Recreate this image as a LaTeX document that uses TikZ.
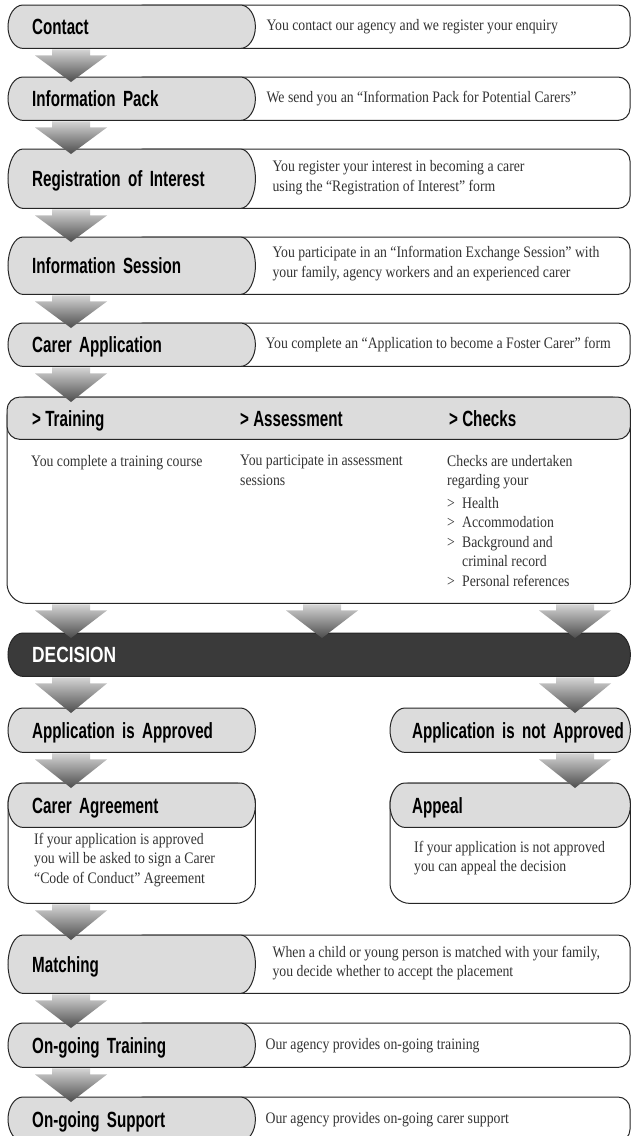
\documentclass[tikz,border=0pt]{standalone}
\usepackage{fontspec}
\usetikzlibrary{calc}
\newfontfamily\headfont[FakeStretch=0.69]{Liberation Sans Bold}
\newfontfamily\decisionfont[FakeStretch=0.79]{Liberation Sans Bold}
\newfontfamily\bodyfont[FakeStretch=0.86]{Liberation Serif}
\definecolor{pillgrey}{HTML}{DCDCDC}
\definecolor{edgegrey}{HTML}{262626}
\definecolor{decisiongrey}{HTML}{3A3A3A}
\definecolor{arrowtop}{HTML}{D4D4D4}
\definecolor{arrowbot}{HTML}{4C4C4C}
\definecolor{bodytext}{HTML}{333333}
\pgfdeclarelayer{boxes}
\pgfdeclarelayer{pills}
\pgfsetlayers{boxes,pills,main}

\tikzset{
  headtext/.style={text height=16pt, text depth=0pt, text=black,
    font=\headfont\fontsize{22}{25}\selectfont},
  head/.style={headtext, anchor=north west, minimum width=247pt, minimum height=43pt,
    inner xsep=24pt, text width=199pt, align=left},
  desc/.style={anchor=west, align=left, inner sep=0pt, text=bodytext,
    font=\bodyfont\fontsize{16}{19.5}\selectfont},
  frame/.style={anchor=north west, inner sep=0pt},
  outline/.style={draw=edgegrey, line width=1pt},
  arrowshade/.style={top color=arrowtop, bottom color=arrowbot},
}

% grey pill with elliptic ends, drawn from a node's corners
\newcommand{\pillshape}[2][pillgrey]{%
  \path[outline, fill=#1] let \p1=(#2.north west), \p2=(#2.south east) in
    (\x1+15pt,\y1) -- (\x2-15pt,\y1)
    arc[start angle=90, end angle=-90, x radius=15pt, y radius={(\y1-\y2)/2}]
    -- (\x1+15pt,\y2)
    arc[start angle=270, end angle=90, x radius=15pt, y radius={(\y1-\y2)/2}] -- cycle;}
% white box behind a pill, out to the right edge
\newcommand{\descbox}[1]{%
  \draw[outline, fill=white, rounded corners=12pt] (#1.north) -- (#1.north -| rightedge)
    -- (#1.south -| rightedge) -- (#1.south) -- cycle;}
% fat shaded arrow at column #1 from node #2 down to node #3
\newcommand{\fatarrow}[3]{%
  \shade[arrowshade] ($(#1 |- #2.south)+(-19,1)$) -- ++(0,6) -- ++(-17,0)
    -- ($(#1 |- #3.north)+(0,5)$) -- ($(#1 |- #2.south)+(36,7)$) -- ++(-17,0) -- ++(0,-6) -- cycle;}

\begin{document}
\begin{tikzpicture}[x=1pt, y=-1pt]
  \useasboundingbox (0,0) rectangle (631,1136);
  \coordinate (colL) at (71,0);
  \coordinate (colM) at (322,0);
  \coordinate (colR) at (575,0);
  \coordinate (rightedge) at (630,0);

  % steps down the left
  \node[head] (contact) at (8,5) {Contact};
  \node[desc] (contact-d) at ($(contact.east)+(11,0)$) {You contact our agency and we register your enquiry};
  \node[head] (infopack) at (8,77) {Information Pack};
  \node[desc] (infopack-d) at ($(infopack.east)+(11,0)$) {We send you an “Information Pack for Potential Carers”};
  \node[head, minimum height=59pt] (register) at (8,149) {Registration of Interest};
  \node[desc] (register-d) at ($(register.east)+(17,-1)$) {You register your interest in becoming a carer\\using the “Registration of Interest” form};
  \node[head, minimum height=57pt] (session) at (8,237) {Information Session};
  \node[desc] (session-d) at ($(session.east)+(17,-2)$) {You participate in an “Information Exchange Session” with\\your family, agency workers and an experienced carer};
  \node[head] (carerapp) at (8,323) {Carer Application};
  \node[desc] (carerapp-d) at ($(carerapp.east)+(10,0)$) {You complete an “Application to become a Foster Carer” form};

  % training / assessment / checks
  \node[frame, minimum width=623pt, minimum height=206pt] (stage) at (7,397) {};
  \node[frame, minimum width=623pt, minimum height=42pt] (stagehead) at (7,397) {};
  \node[headtext, anchor=west, inner sep=0pt] (training) at (32,418) {> Training};
  \node[headtext, anchor=west, inner sep=0pt] (assessment) at (240,418) {> Assessment};
  \node[headtext, anchor=west, inner sep=0pt] (checks) at (449,418) {> Checks};
  \node[desc, anchor=north west] (training-d) at (31,455) {You complete a training course};
  \node[desc, anchor=north west] (assessment-d) at (240,455) {You participate in assessment\\sessions};
  \node[desc, anchor=north west] (checks-d) at (447,455) {Checks are undertaken\\regarding your\\[3pt]
    \makebox[15pt][l]{>}Health\\\makebox[15pt][l]{>}Accommodation\\
    \makebox[15pt][l]{>}Background and\\\hspace*{15pt}criminal record\\
    \makebox[15pt][l]{>}Personal references};

  % decision and its two outcomes
  \node[head, minimum width=622pt, text width=574pt, text=white,
    font=\decisionfont\fontsize{22}{25}\selectfont] (decision) at (8,633) {DECISION};
  \node[head, minimum height=44pt] (approved) at (8,708) {Application is Approved};
  \node[head, minimum height=44pt, minimum width=240pt, inner xsep=22pt, text width=196pt] (notapproved) at (390,708) {\mbox{Application is not Approved}};
  \node[frame, minimum width=247pt, minimum height=120pt] (agreebox) at (8,783) {};
  \node[head, minimum height=44pt] (agree) at (8,783) {Carer Agreement};
  \node[desc, anchor=north west] (agree-d) at (34,833) {If your application is approved\\you will be asked to sign a Carer\\“Code of Conduct” Agreement};
  \node[frame, minimum width=240pt, minimum height=120pt] (appealbox) at (390,783) {};
  \node[head, minimum height=44pt, minimum width=240pt, inner xsep=22pt, text width=196pt] (appeal) at (390,783) {Appeal};
  \node[desc, anchor=north west] (appeal-d) at (414,841) {If your application is not approved\\you can appeal the decision};

  % after approval
  \node[head, minimum height=58pt] (matching) at (8,935) {Matching};
  \node[desc] (matching-d) at ($(matching.east)+(17,-1)$) {When a child or young person is matched with your family,\\you decide whether to accept the placement};
  \node[head, minimum height=44pt] (ongoingtrain) at (8,1023) {On-going Training};
  \node[desc] (ongoingtrain-d) at ($(ongoingtrain.east)+(10,0)$) {Our agency provides on-going training};
  \node[head, minimum height=44pt] (ongoingsupport) at (8,1097) {On-going Support};
  \node[desc] (ongoingsupport-d) at ($(ongoingsupport.east)+(10,0)$) {Our agency provides on-going carer support};

  % box shapes behind the text
  \begin{pgfonlayer}{boxes}
    \fill[white] (0,0) rectangle (631,1136);
    \foreach \b in {contact,infopack,register,session,carerapp,matching,ongoingtrain,ongoingsupport}
      {\descbox{\b}}
    \foreach \b in {stage,agreebox,appealbox}
      {\draw[outline, fill=white, rounded corners=20pt] (\b.north west) rectangle (\b.south east);}
  \end{pgfonlayer}
  \begin{pgfonlayer}{pills}
    \foreach \b in {contact,infopack,register,session,carerapp,approved,notapproved,agree,appeal,matching,ongoingtrain,ongoingsupport}
      {\pillshape{\b}}
    \pillshape[decisiongrey]{decision}
    \draw[outline, fill=pillgrey, rounded corners=13pt] (stagehead.north west) rectangle (stagehead.south east);
  \end{pgfonlayer}

  % arrows
  \fatarrow{colL}{contact}{infopack}
  \fatarrow{colL}{infopack}{register}
  \fatarrow{colL}{register}{session}
  \fatarrow{colL}{session}{carerapp}
  \fatarrow{colL}{carerapp}{stage}
  \foreach \c in {colL,colM,colR}
    {\fatarrow{\c}{stage}{decision}}
  \fatarrow{colL}{decision}{approved}
  \fatarrow{colR}{decision}{notapproved}
  \fatarrow{colL}{approved}{agreebox}
  \fatarrow{colR}{notapproved}{appealbox}
  \fatarrow{colL}{agreebox}{matching}
  \fatarrow{colL}{matching}{ongoingtrain}
  \fatarrow{colL}{ongoingtrain}{ongoingsupport}
\end{tikzpicture}
\end{document}
